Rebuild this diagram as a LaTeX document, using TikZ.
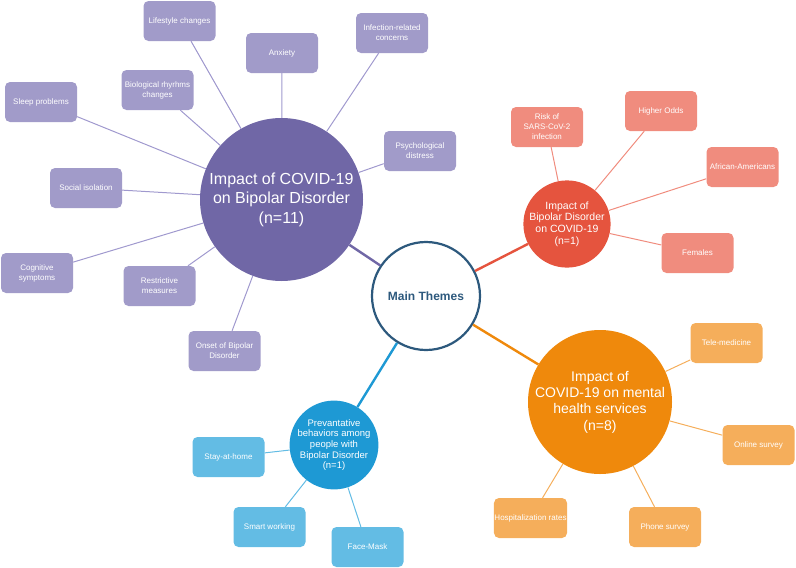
\documentclass[tikz,border=0pt]{standalone}
\usepackage{fontspec}
\setmainfont{Liberation Sans}
\usepackage{xcolor}

\definecolor{mainblue}{RGB}{45,89,125}
\definecolor{bdpurple}{RGB}{112,103,166}
\definecolor{pboxc}{RGB}{161,155,201}
\definecolor{plink}{RGB}{160,153,206}
\definecolor{covred}{RGB}{229,84,62}
\definecolor{rboxc}{RGB}{240,140,126}
\definecolor{mhorange}{RGB}{239,137,12}
\definecolor{oboxc}{RGB}{245,174,91}
\definecolor{pvblue}{RGB}{30,153,212}
\definecolor{bboxc}{RGB}{99,188,228}

\begin{document}
\begin{tikzpicture}[x=1pt,y=-1pt,
    theme/.style={circle,inner sep=0pt,align=center,text=white},
    sbox/.style={rectangle,rounded corners=5pt,minimum width=72pt,minimum height=40pt,
        inner sep=0.5pt,align=center,text=white,font=\fontsize{8}{10}\selectfont},
    link/.style={line width=1pt},
    mainlink/.style={line width=2.4pt}]
    \useasboundingbox (0,0) rectangle (796,568);

    % Main themes
    \node[circle,draw=mainblue,line width=2.2pt,fill=white,minimum size=108pt,text=mainblue,
        font=\bfseries\fontsize{12}{14}\selectfont] (main) at (426,296) {Main Themes};

    % Impact of COVID-19 on Bipolar Disorder
    \node[theme,fill=bdpurple,minimum size=163pt,font=\fontsize{16}{19.5}\selectfont] (bd) at (281.5,199.5)
        {Impact of COVID-19\\on Bipolar Disorder\\(n=11)};
    \node[sbox,fill=pboxc] (life) at (179.5,21) {Lifestyle changes};
    \node[sbox,fill=pboxc] (anx) at (282,53) {Anxiety};
    \node[sbox,fill=pboxc] (infc) at (392,33) {Infection-related\\concerns};
    \node[sbox,fill=pboxc] (psy) at (420,151) {Psychological\\distress};
    \node[sbox,fill=pboxc] (bio) at (157.5,90) {Biological rhyrhms\\changes};
    \node[sbox,fill=pboxc] (sleep) at (41,102) {Sleep problems};
    \node[sbox,fill=pboxc] (soc) at (86,188) {Social isolation};
    \node[sbox,fill=pboxc] (cog) at (37,273) {Cognitive\\symptoms};
    \node[sbox,fill=pboxc] (restr) at (159.5,286) {Restrictive\\measures};
    \node[sbox,fill=pboxc] (onset) at (224.5,351) {Onset of Bipolar\\Disorder};

    % Impact of Bipolar Disorder on COVID-19
    \node[theme,fill=covred,minimum size=80pt,font=\fontsize{10.5}{11.6}\selectfont] (cov) at (567,224)
        {Impact of\\Bipolar Disorder\\on COVID-19\\(n=1)};
    \node[sbox,fill=rboxc] (risk) at (547,127) {Risk of\\SARS-CoV-2\\infection};
    \node[sbox,fill=rboxc] (odds) at (661,111) {Higher Odds};
    \node[sbox,fill=rboxc] (afr) at (742.5,167) {African-Americans};
    \node[sbox,fill=rboxc] (fem) at (697.5,253) {Females};

    % Impact of COVID-19 on mental health services
    \node[theme,fill=mhorange,minimum size=142pt,font=\fontsize{14}{16.3}\selectfont] (mh) at (600,402)
        {Impact of\\COVID-19 on mental\\health services\\(n=8)};
    \node[sbox,fill=oboxc] (tele) at (726.5,343) {Tele-medicine};
    \node[sbox,fill=oboxc] (online) at (758.5,445) {Online survey};
    \node[sbox,fill=oboxc] (phone) at (665,527) {Phone survey};
    \node[sbox,fill=oboxc] (hosp) at (530.5,518) {Hospitalization rates};

    % Prevantative behaviors
    \node[theme,fill=pvblue,minimum size=80pt,font=\fontsize{9.5}{10.6}\selectfont] (pv) at (334,445)
        {Prevantative\\behaviors among\\people with\\Bipolar Disorder\\(n=1)};
    \node[sbox,fill=bboxc] (stay) at (228.5,457) {Stay-at-home};
    \node[sbox,fill=bboxc] (smart) at (269.5,527) {Smart working};
    \node[sbox,fill=bboxc] (mask) at (367.5,547) {Face-Mask};

    % Links to the main themes
    \draw[mainlink,bdpurple] (main) -- (bd);
    \draw[mainlink,covred] (main) -- (cov);
    \draw[mainlink,mhorange] (main) -- (mh);
    \draw[mainlink,pvblue] (main) -- (pv);

    % Sub-theme links
    \draw[link,plink] (bd) -- (life);
    \draw[link,plink] (bd) -- (anx);
    \draw[link,plink] (bd) -- (infc);
    \draw[link,plink] (bd) -- (psy);
    \draw[link,plink] (bd) -- (bio);
    \draw[link,plink] (bd) -- (sleep);
    \draw[link,plink] (bd) -- (soc);
    \draw[link,plink] (bd) -- (cog);
    \draw[link,plink] (bd) -- (restr);
    \draw[link,plink] (bd) -- (onset);

    \draw[link,rboxc] (cov) -- (risk);
    \draw[link,rboxc] (cov) -- (odds);
    \draw[link,rboxc] (cov) -- (afr);
    \draw[link,rboxc] (cov) -- (fem);

    \draw[link,oboxc] (mh) -- (tele);
    \draw[link,oboxc] (mh) -- (online);
    \draw[link,oboxc] (mh) -- (phone);
    \draw[link,oboxc] (mh) -- (hosp);

    \draw[link,bboxc] (pv) -- (stay);
    \draw[link,bboxc] (pv) -- (smart);
    \draw[link,bboxc] (pv) -- (mask);
\end{tikzpicture}
\end{document}
